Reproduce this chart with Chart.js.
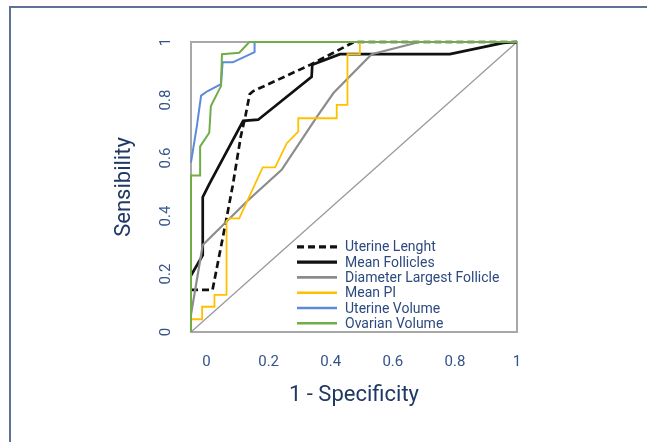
<!DOCTYPE html>
<html><head><meta charset="utf-8">
<script src="https://cdn.jsdelivr.net/npm/chart.js@4"></script>
<style>
html,body{margin:0;padding:0;background:#fff;width:647px;height:442px;overflow:hidden;}
#wrap{position:absolute;left:0;top:0;width:647px;height:442px;}
</style></head><body>
<div id="wrap"><canvas id="c"></canvas></div>
<script>
// ---- data (x = 1 - specificity, y = sensitivity) ----
const seriesNames = ['Uterine Lenght','Mean Follicles','Diameter Largest Follicle','Mean PI','Uterine Volume','Ovarian Volume'];
const uterineLength = [[0,0.145],[0.066,0.145],[0.107,0.38],[0.128,0.505],[0.153,0.676],[0.167,0.745],[0.18,0.82],[0.19,0.83],[0.365,0.921],[0.5,1],[1,1]];
const meanFollicles = [[0,0.195],[0.036,0.265],[0.036,0.465],[0.056,0.51],[0.16,0.728],[0.206,0.732],[0.37,0.88],[0.372,0.922],[0.457,0.958],[0.794,0.958],[0.958,0.997],[1,1]];
const diameterLargestFollicle = [[0,0.06],[0.036,0.3],[0.176,0.455],[0.278,0.559],[0.386,0.742],[0.437,0.824],[0.554,0.958],[0.70,1],[1,1]];
const meanPI = [[0,0.044],[0.034,0.044],[0.034,0.087],[0.072,0.087],[0.072,0.128],[0.109,0.128],[0.109,0.384],[0.118,0.392],[0.148,0.392],[0.22,0.568],[0.258,0.568],[0.294,0.651],[0.329,0.691],[0.329,0.737],[0.447,0.737],[0.447,0.783],[0.48,0.783],[0.48,0.958],[0.518,0.958],[0.518,1],[1,1]];
const uterineVolume = [[0,0.585],[0.018,0.71],[0.031,0.815],[0.05,0.83],[0.092,0.855],[0.097,0.93],[0.128,0.93],[0.195,0.965],[0.195,1],[1,1]];
const ovarianVolume = [[0,0],[0,0.54],[0.028,0.54],[0.028,0.64],[0.056,0.687],[0.061,0.779],[0.092,0.848],[0.095,0.958],[0.148,0.963],[0.179,1],[1,1]];
const referenceLine = [[0,0],[1,1]];
const xTickValues = [0,0.2,0.4,0.6,0.8,1];
const xTickLabels = ['0','0.2','0.4','0.6','0.8','1'];
const yTickValues = [0,0.2,0.4,0.6,0.8,1];
const yTickLabels = ['0','0.2','0.4','0.6','0.8','1'];
const xAxisTitle = '1 - Specificity';
const yAxisTitle = 'Sensibility';

// ---- styles ----
const FONT = 'Roboto';
const seriesData = [uterineLength, meanFollicles, diameterLargestFollicle, meanPI, uterineVolume, ovarianVolume];
const seriesStyles = [
  {color:'#111111', width:2.7, dash:[7,4]},
  {color:'#111111', width:2.7, dash:[]},
  {color:'#8c8c8c', width:2.2, dash:[]},
  {color:'#ffc000', width:1.8, dash:[]},
  {color:'#5b8ad8', width:2.0, dash:[]},
  {color:'#70ad47', width:2.0, dash:[]}
];
const toXY = arr => arr.map(p => ({x:p[0], y:p[1]}));

const datasets = [{
  label:'ref', data: toXY(referenceLine), borderColor:'#9a9a9a', borderWidth:1.3,
  showLine:true, pointRadius:0, order:10, clip:false, isRef:true
}];
seriesData.forEach((d,i) => {
  const s = seriesStyles[i];
  datasets.push({
    label: seriesNames[i], data: toXY(d), borderColor: s.color, borderWidth: s.width,
    borderDash: s.dash, showLine:true, pointRadius:0, tension:0, order: 6 - i, clip:false
  });
});

const framePlugin = {
  id:'frame',
  beforeDraw(chart){
    const ctx = chart.ctx;
    ctx.save();
    ctx.strokeStyle = '#5f7099'; ctx.lineWidth = 2;
    ctx.beginPath();
    ctx.moveTo(10, chart.height); ctx.lineTo(10, 7); ctx.lineTo(chart.width, 7);
    ctx.stroke();
    ctx.restore();
  }
};
const boxPlugin = {
  id:'box',
  beforeDatasetsDraw(chart){
    const {ctx, chartArea:a} = chart;
    ctx.save();
    ctx.strokeStyle = '#a8a8a8'; ctx.lineWidth = 2;
    ctx.strokeRect(a.left, a.top, a.right - a.left, a.bottom - a.top);
    ctx.restore();
  }
};
const legendPlugin = {
  id:'inLegend',
  afterDatasetsDraw(chart){
    const {ctx, chartArea:a} = chart;
    const x0 = a.left + 106, len = 40, tx = x0 + 48, rowH = 15.3;
    const y0 = a.bottom - 8.7 - 5*rowH;
    ctx.save();
    ctx.font = '14px ' + FONT;
    ctx.textBaseline = 'middle';
    ctx.textAlign = 'left';
    chart.data.datasets.filter(d => !d.isRef).forEach((d,i) => {
      const y = y0 + i*rowH;
      ctx.beginPath();
      ctx.setLineDash(d.borderDash || []);
      ctx.strokeStyle = d.borderColor; ctx.lineWidth = d.borderWidth + 0.6;
      ctx.moveTo(x0, y); ctx.lineTo(x0 + len, y); ctx.stroke();
      ctx.setLineDash([]);
      ctx.fillStyle = '#2d4a7f';
      ctx.fillText(d.label, tx, y + 1);
    });
    ctx.restore();
  }
};

new Chart(document.getElementById('c'), {
  type:'scatter',
  data:{datasets},
  options:{
    responsive:true, maintainAspectRatio:false, animation:false,
    layout:{padding:{left:103, right:130, top:42, bottom:30}},
    plugins:{legend:{display:false}, tooltip:{enabled:false}},
    scales:{
      x:{type:'linear', min:0, max:1, display:false},
      xt:{type:'linear', position:'bottom', min:-0.05, max:1.0,
        afterBuildTicks: s => { s.ticks = xTickValues.map(v => ({value:v})); },
        ticks:{callback:(v,i) => xTickLabels[i], padding:21, color:'#34538a', font:{family:FONT, size:15}, maxRotation:0, autoSkip:false},
        grid:{display:false, drawTicks:false}, border:{display:false},
        title:{display:true, text:xAxisTitle, color:'#1f3864', font:{family:FONT, size:22}, padding:{top:0, bottom:3}},
        afterFit: s => { s.height = 80; }
      },
      y:{type:'linear', min:0, max:1,
        afterBuildTicks: s => { s.ticks = yTickValues.map(v => ({value:v})); },
        ticks:{callback:(v,i) => yTickLabels[i], minRotation:90, maxRotation:90, crossAlign:'center', padding:14, color:'#34538a', font:{family:FONT, size:15}, autoSkip:false},
        grid:{display:false, drawTicks:false}, border:{display:false},
        title:{display:true, text:yAxisTitle, color:'#1f3864', font:{family:FONT, size:22}, padding:{top:8, bottom:0}},
        afterFit: s => { s.width = 88; }
      }
    }
  },
  plugins:[framePlugin, boxPlugin, legendPlugin]
});
</script>
</body></html>
